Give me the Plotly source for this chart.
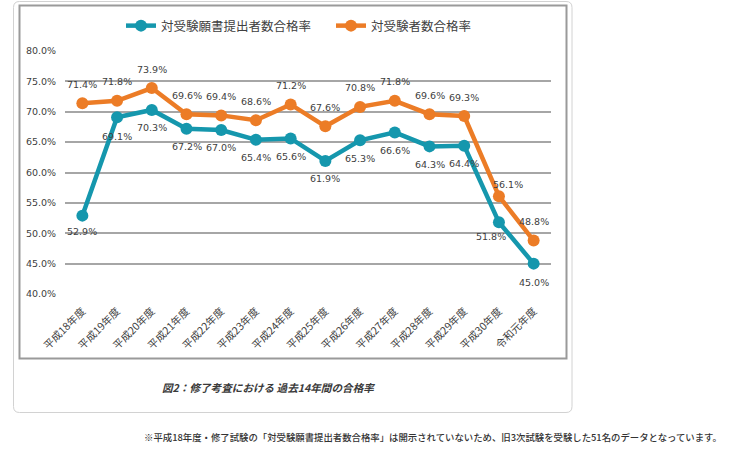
import plotly.graph_objects as go

categories = ["平成18年度", "平成19年度", "平成20年度", "平成21年度", "平成22年度", "平成23年度",
              "平成24年度", "平成25年度", "平成26年度", "平成27年度", "平成28年度", "平成29年度",
              "平成30年度", "令和元年度"]
teal_name = "対受験願書提出者数合格率"
orange_name = "対受験者数合格率"
teal_values = [52.9, 69.1, 70.3, 67.2, 67.0, 65.4, 65.6, 61.9, 65.3, 66.6, 64.3, 64.4, 51.8, 45.0]
orange_values = [71.4, 71.8, 73.9, 69.6, 69.4, 68.6, 71.2, 67.6, 70.8, 71.8, 69.6, 69.3, 56.1, 48.8]
y_ticks = [40, 45, 50, 55, 60, 65, 70, 75, 80]
caption = "図2：修了考査における 過去14年間の合格率"
footnote = "※平成18年度・修了試験の「対受験願書提出者数合格率」は開示されていないため、旧3次試験を受験した51名のデータとなっています。"

W, H = 733, 458
TEAL = "#1597ad"
ORANGE = "#ec7c26"
FONT = "DejaVu Sans, Noto Sans CJK JP"
JFONT = "Noto Sans CJK JP"

# label offsets (style)
teal_shift = [(0, -16), (0, -19), (0, -18), (0, -18), (0, -18), (0, -18), (0, -18),
              (0, -18), (0, -18), (0, -18), (0, -18), (0, -18), (-8, -14), (0, -19)]
orange_shift = [(0, 19), (0, 19), (0, 19), (0, 19), (0, 19), (0, 19), (0, 19),
                (0, 19), (0, 19), (0, 19), (0, 19), (0, 19), (9, 12), (0, 19)]

def px(x):
    return x / W

def py(y):
    return 1 - y / H

fig = go.Figure()
fig.add_trace(go.Scatter(x=categories, y=teal_values, name=teal_name, mode="lines+markers",
                         line=dict(color=TEAL, width=4.5), marker=dict(color=TEAL, size=12)))
fig.add_trace(go.Scatter(x=categories, y=orange_values, name=orange_name, mode="lines+markers",
                         line=dict(color=ORANGE, width=4.5), marker=dict(color=ORANGE, size=12)))

annotations = []
for vals, shifts in ((teal_values, teal_shift), (orange_values, orange_shift)):
    for c, v, (dx, dy) in zip(categories, vals, shifts):
        annotations.append(dict(x=c, y=v, xref="x", yref="y", text=f"{v:.1f}%", showarrow=False,
                                xshift=dx, yshift=dy, font=dict(family=FONT, size=9.5, color="#404040")))
annotations.append(dict(x=px(268), y=py(387), xref="paper", yref="paper", text=caption, showarrow=False,
                        font=dict(family=JFONT, size=10.6, color="#3a3a3a", style="italic", weight=600),
                        xanchor="center", yanchor="middle"))
annotations.append(dict(x=px(142), y=py(437), xref="paper", yref="paper", text=footnote, showarrow=False,
                        font=dict(family=JFONT, size=9.4, color="#333333", weight=500),
                        xanchor="left", yanchor="middle"))

# rounded outer box path
x0, x1, y0, y1, r = 13.5, 572, 1.5, 412.5, 6
def P(x, y):
    return f"{px(x)},{py(y)}"
path = (f"M {P(x0 + r, y0)} L {P(x1 - r, y0)} Q {P(x1, y0)} {P(x1, y0 + r)} "
        f"L {P(x1, y1 - r)} Q {P(x1, y1)} {P(x1 - r, y1)} L {P(x0 + r, y1)} "
        f"Q {P(x0, y1)} {P(x0, y1 - r)} L {P(x0, y0 + r)} Q {P(x0, y0)} {P(x0 + r, y0)} Z")

shapes = [
    dict(type="path", xref="paper", yref="paper", path=path, line=dict(color="#d2d2d2", width=1), layer="below"),
    dict(type="rect", xref="paper", yref="paper", x0=px(19.5), x1=px(566.5), y0=py(5.5), y1=py(358.5),
         line=dict(color="#9a9a9a", width=2), layer="below"),
]

fig.update_layout(
    width=W, height=H,
    margin=dict(l=0, r=0, t=0, b=0, autoexpand=False),
    paper_bgcolor="white", plot_bgcolor="white",
    showlegend=True,
    legend=dict(orientation="h", x=px(121), y=py(26), xanchor="left", yanchor="middle",
                entrywidth=165, entrywidthmode="pixels",
                font=dict(family=JFONT, size=12.5, color="#404040"), bgcolor="rgba(0,0,0,0)"),
    xaxis=dict(domain=[px(65), px(551)], range=[-0.5, len(categories) - 0.5], tickangle=-45,
               showgrid=False, showline=False, automargin=False,
               tickfont=dict(family=JFONT, size=10.5, color="#404040"),
               ticks="outside", ticklen=6, tickcolor="rgba(0,0,0,0)"),
    yaxis=dict(domain=[py(294), py(51)], range=[40, 80], tickvals=y_ticks, automargin=False,
               ticktext=[f"{t:.1f}%" for t in y_ticks], showgrid=True, gridcolor="#a6a6a6", gridwidth=1.5,
               zeroline=False, showline=False, tickfont=dict(family=FONT, size=9.5, color="#404040"),
               ticks="outside", ticklen=6, tickcolor="rgba(0,0,0,0)"),
    annotations=annotations,
    shapes=shapes,
)

fig.write_html("out.html", config={"displayModeBar": False},
               post_script="document.body.style.margin='0px';document.body.style.overflow='hidden';")
